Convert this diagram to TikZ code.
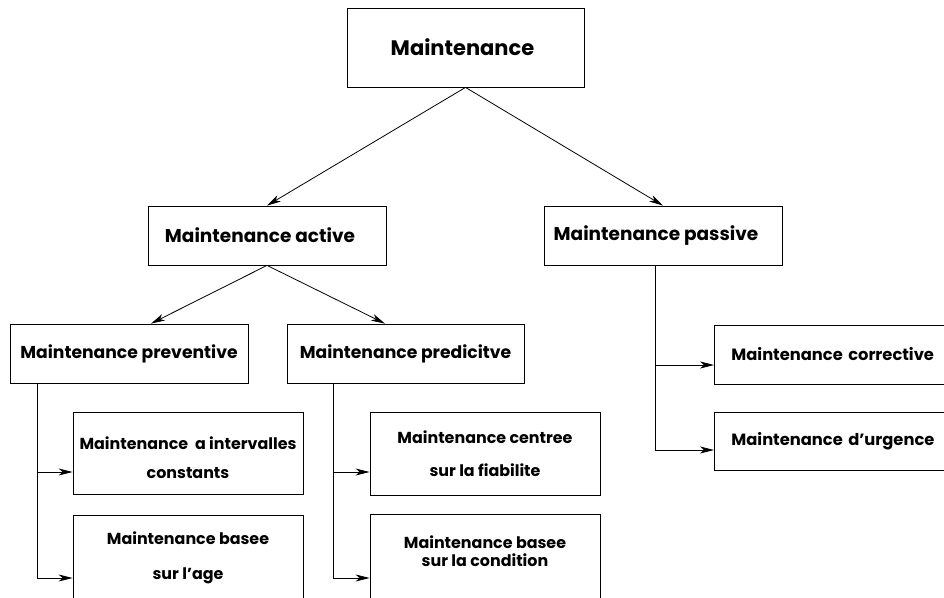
\documentclass[tikz,border=0pt]{standalone}
\usepackage{fontspec}
\setmainfont{Poppins}
\usetikzlibrary{arrows.meta,positioning}
\tikzset{headarrow/.style = {-{Stealth[length=14pt,width=7pt,inset=4pt]}}}

\begin{document}
\begin{tikzpicture}[x=1pt, y=-1pt, line width=0.8pt,
    box/.style = {draw, rectangle, inner sep=0pt, align=center},
    big/.style = {font=\bfseries\fontsize{21}{25}\selectfont},
    mid/.style = {font=\bfseries\fontsize{18.5}{22}\selectfont},
    midsmall/.style = {font=\bfseries\fontsize{17.2}{21}\selectfont},
    small/.style = {font=\bfseries\fontsize{15.9}{19}\selectfont}]
    \clip (0,0) rectangle (944,597);

    \node[box, big, minimum width=237pt, minimum height=79pt] (maint) at (465.5,47.5) {Maintenance\hspace*{6pt}};
    \node[box, mid, minimum width=238pt, minimum height=59pt] (active) at (267,235.5) {Maintenance active\hspace*{14pt}};
    \node[box, mid, minimum width=238pt, minimum height=59pt] (passive) at (663,235.5) {Maintenance passive\hspace*{14pt}};
    \node[box, midsmall, minimum width=238pt, minimum height=59pt] (prev) at (129,353.5) {Maintenance preventive};
    \node[box, midsmall, minimum width=237pt, minimum height=59pt] (pred) at (405.5,353.5) {Maintenance predicitve};

    \node[box, small, minimum width=230pt, minimum height=82pt] (inter) at (188,453)
        {\rule{0pt}{23pt}Maintenance\ \ a intervalles\\[10pt]constants};
    \node[box, small, minimum width=230pt, minimum height=85pt] (age) at (188,557.5)
        {Maintenance basee\\[16pt]sur l'age};
    \node[box, small, minimum width=230pt, minimum height=83pt] (fiab) at (485,453.5)
        {Maintenance centree\\[14pt]sur la fiabilite};
    \node[box, small, minimum width=230pt, minimum height=86pt] (cond) at (485,557)
        {Maintenance basee\\[-1pt]sur la condition\rule[-12pt]{0pt}{12pt}};

    \node[box, small, font=\bfseries\fontsize{16.3}{19}\selectfont, anchor=west, text width=220pt,
        inner xsep=17pt, align=left, minimum height=59pt] (corr) at (714,354.5) {Maintenance corrective};
    \node[box, small, font=\bfseries\fontsize{16.3}{19}\selectfont, anchor=west, text width=220pt,
        inner xsep=17pt, align=left, minimum height=58pt] (urg) at (714,441) {Maintenance d'urgence};

    \draw[headarrow] (maint.south) -- (active.north);
    \draw[headarrow] (maint.south) -- (passive.north);
    \draw[headarrow] (active.south) -- ([xshift=22pt]prev.north);
    \draw[headarrow] (active.south) -- ([xshift=-20.5pt]pred.north);

    \draw[headarrow] ([xshift=28pt]prev.south west) |- ([yshift=-19pt]inter.west);
    \draw[headarrow] ([xshift=28pt]prev.south west) |- ([yshift=-20.5pt]age.west);
    \draw[headarrow] ([xshift=47pt]pred.south west) |- ([yshift=-18.5pt]fiab.west);
    \draw[headarrow] ([xshift=47pt]pred.south west) |- ([yshift=-21pt]cond.west);
    \draw[headarrow] ([xshift=-8pt]passive.south) |- ([yshift=-10.5pt]corr.west);
    \draw[headarrow] ([xshift=-8pt]passive.south) |- ([yshift=-9pt]urg.west);
\end{tikzpicture}
\end{document}
